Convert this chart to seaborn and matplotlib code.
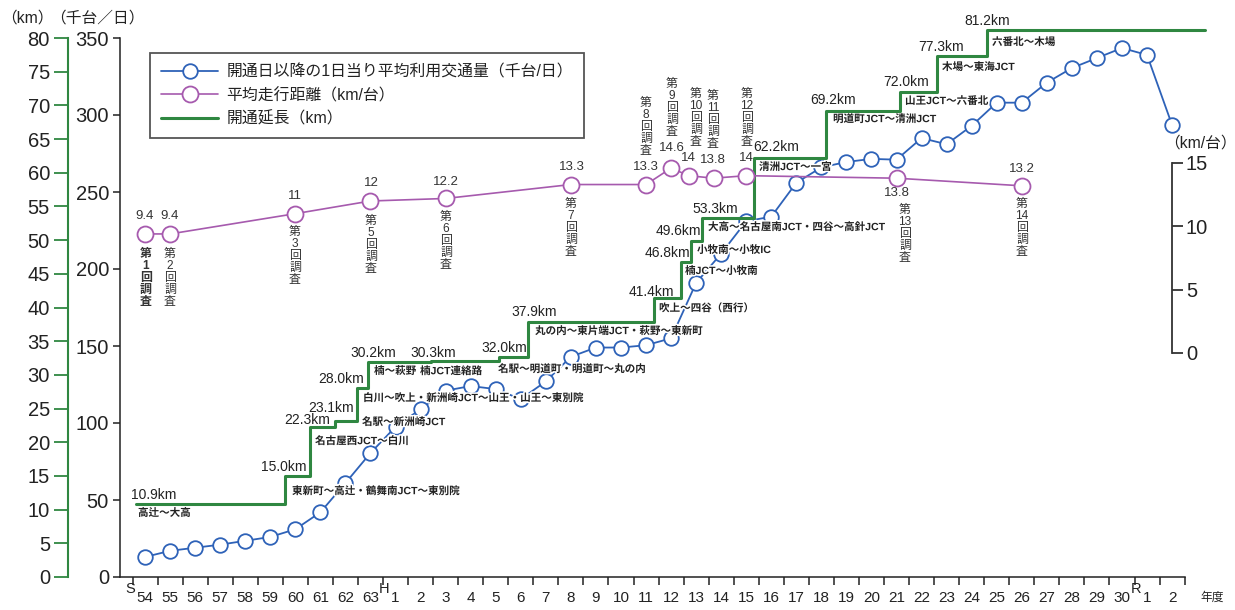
import matplotlib
matplotlib.use('Agg')
import matplotlib.pyplot as plt
import seaborn as sns
import numpy as np
import pandas as pd
from matplotlib import patheffects as pe

sns.set_theme(style='ticks')
plt.rcParams['font.family'] = ['Liberation Sans', 'Noto Sans CJK JP', 'DejaVu Sans']
plt.rcParams['axes.unicode_minus'] = False

# ---------------- data ----------------
year_labels = ['54', '55', '56', '57', '58', '59', '60', '61', '62', '63'] + \
              [str(i) for i in range(1, 31)] + ['1', '2']
era_marks = ['S', 'H', 'R']
era_start = [0, 10, 40]

traffic = [13, 17, 19, 21, 23.5, 26, 31, 42, 61, 80.5,
           97.5, 109, 121, 124, 122, 115.5, 127, 143, 149, 149,
           150.5, 155, 191, 210, 231, 234, 256, 266, 269.5, 271.5,
           271, 285, 281, 293, 308, 308, 321, 330.5, 337, 343.5,
           339, 293.5]

survey_pos = [0.5, 1.5, 6.5, 9.5, 12.5, 17.5, 20.5, 21.5, 22.2, 23.2, 24.5, 30.5, 35.5]
avg_dist = [9.4, 9.4, 11, 12, 12.2, 13.3, 13.3, 14.6, 14, 13.8, 14, 13.8, 13.2]
survey_names = ['第\n1\n回\n調\n査', '第\n2\n回\n調\n査', '第\n3\n回\n調\n査', '第\n5\n回\n調\n査',
                '第\n6\n回\n調\n査', '第\n7\n回\n調\n査', '第\n8\n回\n調\n査', '第\n9\n回\n調\n査',
                '第\n10\n回\n調\n査', '第\n11\n回\n調\n査', '第\n12\n回\n調\n査', '第\n13\n回\n調\n査',
                '第\n14\n回\n調\n査']

# opening length: step positions (fiscal-year axis) and levels as drawn in the picture
open_pos = [0.15, 6.1, 7.1, 8.1, 8.95, 9.4, 11.9, 14.65, 15.8, 20.8, 21.9, 22.3, 22.75,
            24.8, 27.7, 30.65, 32.1, 34.1, 42.8]
open_km = [10.9, 15.0, 22.3, 23.1, 28.0, 31.95, 32.05, 32.6, 37.9, 41.4, 46.8, 49.8, 53.3,
           62.2, 69.2, 72.0, 77.3, 81.2, 81.2]
open_km_labels = ['10.9km', '15.0km', '22.3km', '23.1km', '28.0km', '30.2km', '30.3km', '32.0km',
                  '37.9km', '41.4km', '46.8km', '49.6km', '53.3km', '62.2km', '69.2km', '72.0km',
                  '77.3km', '81.2km']
route_names = ['高辻～大高', '東新町～高辻・鶴舞南JCT～東別院', '名古屋西JCT～白川', '名駅～新洲崎JCT',
               '白川～吹上・新洲崎JCT～山王・山王～東別院', '楠～萩野', '楠JCT連絡路',
               '名駅～明道町・明道町～丸の内', '丸の内～東片端JCT・萩野～東新町', '吹上～四谷（西行）',
               '楠JCT～小牧南', '小牧南～小牧IC', '大高～名古屋南JCT・四谷～高針JCT', '清洲JCT～一宮',
               '明道町JCT～清洲JCT', '山王JCT～六番北', '木場～東海JCT', '六番北～木場']

legend_labels = ['開通日以降の1日当り平均利用交通量（千台/日）', '平均走行距離（km/台）', '開通延長（km）']

# ---------------- layout (reference pixel anchors for annotations) ----------------
km_label_px = [(131, 495, 'left'), (307, 467, 'right'), (330, 420, 'right'), (354, 408, 'right'),
               (364, 379, 'right'), (396, 353, 'right'), (456, 353, 'right'), (527, 348, 'right'),
               (557, 312, 'right'), (674, 292, 'right'), (690, 253, 'right'), (701, 231, 'right'),
               (738, 209, 'right'), (753, 147, 'left'), (810, 100, 'left'), (883, 82, 'left'),
               (918, 47, 'left'), (964, 21, 'left')]
route_px = [(138, 513), (292, 491), (315, 441), (362, 422), (363, 398), (374, 371), (420, 371),
            (498, 369), (535, 331), (659, 308), (685, 271), (697, 250), (708, 227), (759, 167),
            (833, 119), (905, 101), (942, 67), (992, 42)]
value_px = [(145, 216), (170, 216), (295, 196), (371, 183), (446, 182), (572, 167), (646, 167),
            (672, 148), (688, 158), (713, 160), (746, 158), (897, 193), (1022, 169)]
survey_px = [(146, 248), (170, 248), (295, 226), (371, 215), (446, 211), (571, 198), (646, 97),
             (672, 78), (696, 88), (713, 90), (747, 88), (905, 204), (1022, 198)]

BLUE = '#2e62b8'
PURPLE = '#a65aae'
GREEN = '#2f8741'
DARK = '#222222'

W, H = 1235, 610
fig = plt.figure(figsize=(W / 100, H / 100), dpi=100)
AX_L, AX_R, AX_B, AX_T = 120, 1210, 577, 38
ax = fig.add_axes([AX_L / W, (H - AX_B) / H, (AX_R - AX_L) / W, (AX_B - AX_T) / H])
X0, DX = 132.5, 25.05
ax.set_xlim((AX_L - X0) / DX, (AX_R - X0) / DX)
ax.set_ylim(0, 350)
ax.patch.set_alpha(0)

axg = ax.twinx()
axg.set_ylim(0, 80)
axp = ax.twinx()
PXU = 15 / (353 - 163)
axp.set_ylim(-(AX_B - 353) * PXU, 15 + (163 - AX_T) * PXU)


def px2data(px, py):
    return (px - X0) / DX, (AX_B - py) / ((AX_B - AX_T) / 350)


# ---------------- series ----------------
df_t = pd.DataFrame({'year': np.arange(len(traffic)) + 0.5, 'traffic': traffic})
sns.lineplot(data=df_t, x='year', y='traffic', ax=ax, color=BLUE, linewidth=1.3,
             marker='o', markersize=10.5, markerfacecolor='white', markeredgecolor=BLUE,
             markeredgewidth=1.3, legend=False, estimator=None, sort=False)

df_o = pd.DataFrame({'pos': open_pos, 'km': open_km})
sns.lineplot(data=df_o, x='pos', y='km', ax=axg, color=GREEN, linewidth=2.2,
             drawstyle='steps-post', legend=False, estimator=None, sort=False)
axg.lines[0].set_clip_on(False)
axg.lines[0].set_zorder(5)

df_s = pd.DataFrame({'pos': survey_pos, 'dist': avg_dist})
sns.lineplot(data=df_s, x='pos', y='dist', ax=axp, color=PURPLE, linewidth=1.2,
             marker='o', markersize=11.5, markerfacecolor='white', markeredgecolor=PURPLE,
             markeredgewidth=1.3, legend=False, estimator=None, sort=False)
ax.lines[0].set_zorder(3)

for a in (ax, axg, axp):
    a.set_xlabel('')
    a.set_ylabel('')

# ---------------- axes styling ----------------
for s in ['top', 'right']:
    ax.spines[s].set_visible(False)
ax.spines['left'].set_bounds(0, 350)
ax.spines['bottom'].set_bounds((AX_L - X0) / DX, 42)
for s in ['left', 'bottom']:
    ax.spines[s].set_color(DARK)
    ax.spines[s].set_linewidth(1.1)
ax.set_yticks(range(0, 351, 50))
ax.tick_params(axis='y', left=True, direction='out', length=5, width=1.1, color=DARK,
               labelsize=14.5, labelcolor=DARK, pad=3)
ax.set_xticks(np.arange(43))
ax.set_xticklabels([''] * 43)
ax.tick_params(axis='x', which='major', bottom=True, direction='out', length=6, width=1.1, color=DARK)
ax.set_xticks(np.arange(42) + 0.5, minor=True)
ax.set_xticklabels(year_labels, minor=True)
ax.tick_params(axis='x', which='minor', length=0, labelsize=11, labelcolor=DARK, pad=10)

for s in ['top', 'right', 'bottom']:
    axg.spines[s].set_visible(False)
axg.spines['left'].set_visible(True)
axg.spines['left'].set_position(('axes', (68 - AX_L) / (AX_R - AX_L)))
axg.spines['left'].set_color(GREEN)
axg.spines['left'].set_linewidth(1.5)
axg.yaxis.set_ticks_position('left')
axg.yaxis.set_label_position('left')
axg.set_yticks(range(0, 81, 5))
axg.tick_params(axis='y', left=True, right=False, labelleft=True, labelright=False,
                direction='out', length=10, width=1.3, color=GREEN,
                labelsize=14.5, labelcolor=DARK, pad=3)

for s in ['top', 'left', 'bottom']:
    axp.spines[s].set_visible(False)
axp.spines['right'].set_position(('data', (1172 - X0) / DX))
axp.spines['right'].set_bounds(0, 15)
axp.spines['right'].set_color('#333333')
axp.spines['right'].set_linewidth(1.3)
axp.set_yticks([0, 5, 10, 15])
axp.tick_params(axis='y', right=True, direction='out', length=8, width=1.3, color='#333333',
                labelsize=14.5, labelcolor=DARK, pad=2)


def put(px, py, s, target=None, **kw):
    x, y = px2data(px, py)
    kw.setdefault('color', DARK)
    return (target or axp).text(x, y, s, transform=ax.transData, clip_on=False, **kw)


# ---------------- annotations ----------------
halo = [pe.withStroke(linewidth=2.2, foreground='white')]
for lab, (px, py, ha) in zip(open_km_labels, km_label_px):
    put(px, py, lab, ha=ha, va='center', fontsize=10)
for name, (px, py) in zip(route_names, route_px):
    put(px, py, name, target=axg, ha='left', va='center', fontsize=7.6, fontweight='bold',
        path_effects=halo, zorder=3)
for v, (px, py) in zip(avg_dist, value_px):
    put(px, py, f'{v:g}', ha='center', va='center', fontsize=9.5, color='#333333')
for i, (name, (px, py)) in enumerate(zip(survey_names, survey_px)):
    put(px, py, name, ha='center', va='top', fontsize=8.6, linespacing=1.0,
        color='#333333', fontweight='bold' if i == 0 else 'normal')

for mark, idx in zip(era_marks, era_start):
    put(X0 + idx * DX + (1.5 if idx else -2), 589, mark, ha='center', va='center', fontsize=10.5)
put(1212, 598, '年度', ha='center', va='center', fontsize=8.5)
put(27, 18, '（km）', ha='center', va='center', fontsize=11.3)
put(97, 18, '（千台／日）', ha='center', va='center', fontsize=11.3)
put(1200, 143, '（km/台）', ha='center', va='center', fontsize=11.3)

# ---------------- legend ----------------
handles = [ax.lines[0], axp.lines[0], axg.lines[0]]
leg = axp.legend(handles, legend_labels, loc='upper left',
                 bbox_to_anchor=(150 / W, 1 - 53 / H), bbox_transform=fig.transFigure,
                 frameon=True, fancybox=False, edgecolor='#555555', framealpha=1,
                 fontsize=11.4, handlelength=3.6, handletextpad=0.5, labelspacing=0.5,
                 borderpad=0.72, borderaxespad=0)
leg.get_frame().set_linewidth(1.3)
for t in leg.get_texts():
    t.set_color(DARK)

fig.savefig('out.png', dpi=100)
